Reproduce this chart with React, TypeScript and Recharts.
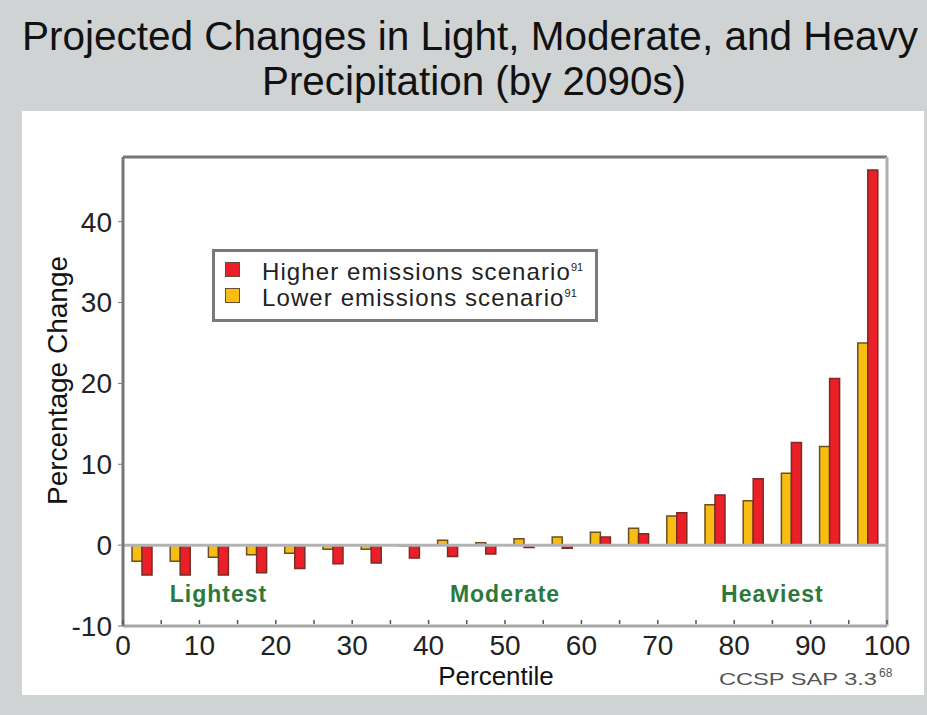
import React from "react";
import {
  BarChart,
  Bar,
  XAxis,
  YAxis,
  Legend,
  ReferenceLine,
  ReferenceDot,
} from "recharts";

// percentile bin centres and projected % change by 2090s
const percentiles = [2.5, 7.5, 12.5, 17.5, 22.5, 27.5, 32.5, 37.5, 42.5, 47.5, 52.5, 57.5, 62.5, 67.5, 72.5, 77.5, 82.5, 87.5, 92.5, 97.5];
const lowerScenario = [-2.0, -2.0, -1.5, -1.2, -1.0, -0.5, -0.5, -0.1, 0.6, 0.3, 0.8, 1.0, 1.6, 2.1, 3.6, 5.0, 5.5, 8.9, 12.2, 25.0];
const higherScenario = [-3.7, -3.7, -3.7, -3.4, -2.9, -2.3, -2.2, -1.6, -1.4, -1.1, -0.3, -0.4, 1.0, 1.4, 4.0, 6.2, 8.2, 12.7, 20.6, 46.4];

const xTicks = [0, 5, 10, 15, 20, 25, 30, 35, 40, 45, 50, 55, 60, 65, 70, 75, 80, 85, 90, 95, 100];
const yTicks = [-10, 0, 10, 20, 30, 40];

const zoneNames = ["Lightest", "Moderate", "Heaviest"];
const zoneCenters = [12.5, 50, 85];

// legend lists higher scenario first
const legendOrder = ["higher", "lower"];

const data = percentiles.map((p, i) => ({
  pct: p,
  lower: lowerScenario[i],
  higher: higherScenario[i],
}));

const FONT = '"Liberation Sans", Arial, sans-serif';

const XTick = (props: any) => {
  const { x, y, payload } = props;
  const v = payload.value;
  return (
    <g>
      <line x1={x} x2={x} y1={y - 6} y2={y - 2} stroke="#555" strokeWidth={1.5} />
      {v % 10 === 0 && (
        <text x={x} y={y + 29} textAnchor="middle" fontSize={28} fill="#222" fontFamily={FONT}>
          {v}
        </text>
      )}
    </g>
  );
};

const YLabel = (props: any) => {
  const vb = props.viewBox;
  const cx = vb.x + 34;
  const cy = vb.y + vb.height / 2 - 11;
  return (
    <text
      x={cx}
      y={cy}
      transform={`rotate(-90 ${cx} ${cy})`}
      textAnchor="middle"
      dominantBaseline="central"
      fontSize={28}
      fill="#111"
      fontFamily={FONT}
    >
      Percentage Change
    </text>
  );
};

const renderLegend = (props: any) => {
  const items = (props.payload || [])
    .slice()
    .sort((a: any, b: any) => legendOrder.indexOf(a.dataKey) - legendOrder.indexOf(b.dataKey));
  return (
    <div
      style={{
        width: 386,
        height: 73,
        boxSizing: "border-box",
        border: "3px solid #7a7a7a",
        background: "#fff",
        paddingTop: 4,
        paddingLeft: 10,
        fontFamily: FONT,
        fontSize: 24,
        letterSpacing: 1.1,
        color: "#222",
      }}
    >
      {items.map((it: any) => (
        <div key={it.value} style={{ height: 26, lineHeight: "26px", display: "flex", alignItems: "center" }}>
          <span
            style={{
              width: 13,
              height: 13,
              background: it.color,
              border: "1px solid #6a4a30",
              marginRight: 22,
              display: "inline-block",
            }}
          />
          <span>
            {it.value}
            <sup style={{ fontSize: 11, letterSpacing: 0 }}>91</sup>
          </span>
        </div>
      ))}
    </div>
  );
};

export default function App() {
  return (
    <div
      style={{
        position: "absolute",
        left: 0,
        top: 0,
        width: 927,
        height: 715,
        background: "#cfd3d3",
        overflow: "hidden",
      }}
    >
      <div style={{ position: "absolute", left: 22, top: 111, width: 902, height: 584, background: "#fff" }} />
      <svg width={927} height={715} style={{ position: "absolute", left: 0, top: 0 }}>
        <text x={22} y={50} fontSize={40} fill="#111" fontFamily={FONT} textLength={896} lengthAdjust="spacingAndGlyphs">
          Projected Changes in Light, Moderate, and Heavy
        </text>
        <text x={262} y={95} fontSize={40} fill="#111" fontFamily={FONT} textLength={424} lengthAdjust="spacingAndGlyphs">
          Precipitation (by 2090s)
        </text>
        <text x={719} y={685} fontSize={17} fill="#555" fontFamily={FONT} textLength={158} lengthAdjust="spacingAndGlyphs">
          CCSP SAP 3.3
        </text>
        <text x={879} y={677} fontSize={12} fill="#555" fontFamily={FONT}>
          68
        </text>
      </svg>
      <div style={{ position: "absolute", left: 0, top: 0 }}>
        <BarChart
          width={927}
          height={715}
          data={data}
          margin={{ top: 157, right: 40, bottom: 29, left: 23 }}
          barSize={10}
          barGap={0}
          style={{ fontFamily: FONT }}
        >
          <XAxis
            type="number"
            dataKey="pct"
            domain={[0, 100]}
            ticks={xTicks}
            interval={0}
            height={60}
            tickLine={false}
            tickSize={0}
            tickMargin={0}
            tick={<XTick />}
            axisLine={{ stroke: "#a8a8a8", strokeWidth: 3 }}
            label={{ value: "Percentile", position: "insideBottom", offset: 1, dx: -9, fontSize: 26, fill: "#111" }}
          />
          <YAxis
            type="number"
            domain={[-10, 48]}
            ticks={yTicks}
            interval={0}
            width={100}
            tickSize={5}
            tickMargin={6}
            tick={{ fontSize: 28, fill: "#222" }}
            tickLine={{ stroke: "#777" }}
            axisLine={{ stroke: "#777", strokeWidth: 3 }}
            label={<YLabel />}
          />
          <ReferenceLine y={48} stroke="#777" strokeWidth={3} />
          <ReferenceLine x={100} stroke="#b0b0b0" strokeWidth={3} />
          <ReferenceLine y={0} stroke="#b3b3b3" strokeWidth={3} />
          <Legend
            layout="vertical"
            align="center"
            verticalAlign="middle"
            content={renderLegend}
            wrapperStyle={{ position: "absolute", left: 212, top: 249, width: 386, height: 73 }}
          />
          <Bar
            dataKey="lower"
            name="Lower emissions scenario"
            fill="#f7bd12"
            stroke="#6b4f22"
            strokeWidth={1.5}
            isAnimationActive={false}
          />
          <Bar
            dataKey="higher"
            name="Higher emissions scenario"
            fill="#ea1f27"
            stroke="#7b2b23"
            strokeWidth={1.5}
            isAnimationActive={false}
          />
          {zoneNames.map((name, i) => (
            <ReferenceDot
              key={name}
              x={zoneCenters[i]}
              y={-6.06}
              r={0}
              stroke="none"
              fill="none"
              label={{
                value: name,
                position: "center",
                fill: "#2b7a3c",
                fontSize: 23,
                fontWeight: "bold",
                letterSpacing: 1,
              }}
            />
          ))}
        </BarChart>
      </div>
    </div>
  );
}
